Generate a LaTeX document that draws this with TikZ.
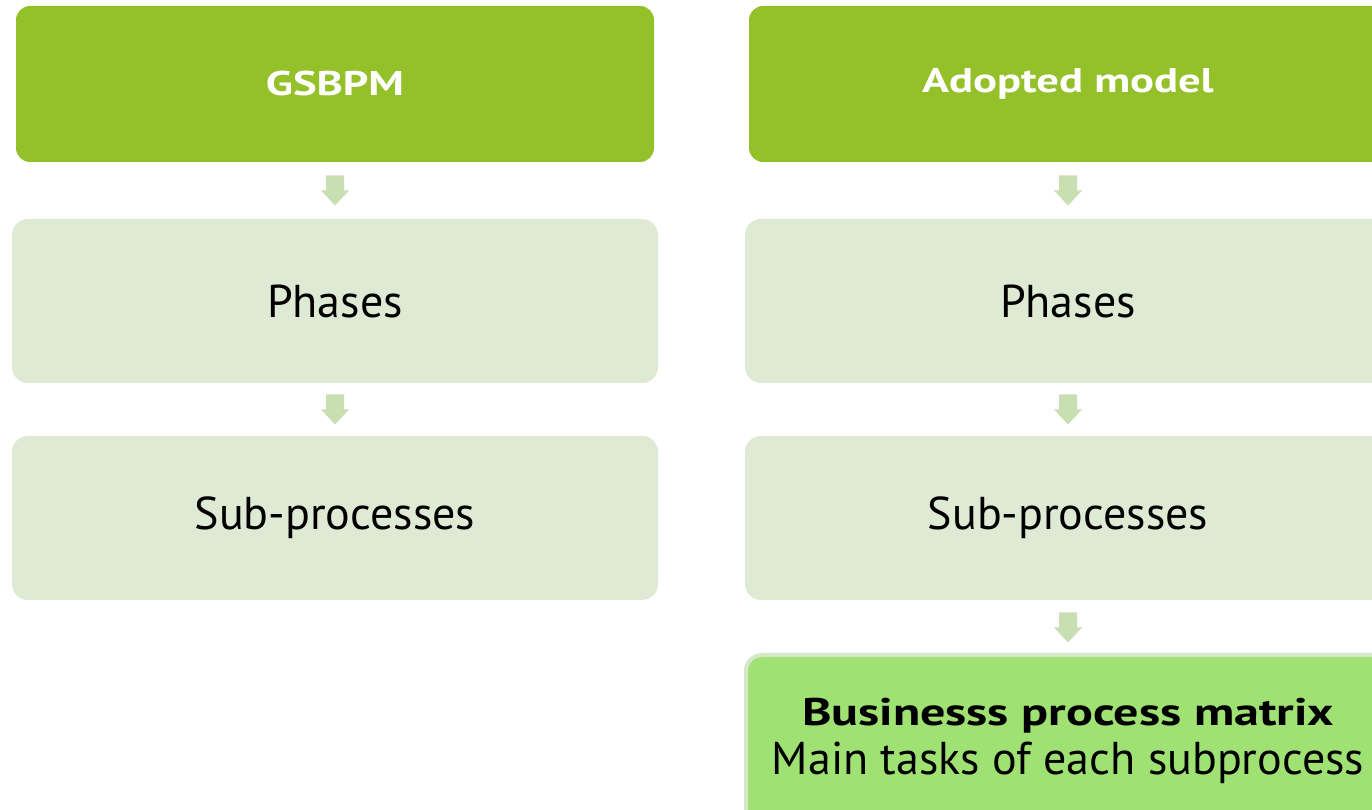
\documentclass[tikz,border=0pt]{standalone}
\usepackage{fontspec}
\setmainfont{PT Sans}[BoldFeatures={FakeStretch=1.3}]
\usetikzlibrary{positioning,calc}
\definecolor{headgreen}{HTML}{94C12A}
\definecolor{palegreen}{HTML}{DFEAD5}
\definecolor{arrowgreen}{HTML}{C8DFB1}
\definecolor{matrixgreen}{HTML}{A0E173}
\definecolor{rimgreen}{HTML}{D4E7C8}
\newcommand\px{0.02cm}
% block arrow in the gap between two boxes
\newcommand\flowstep[2]{%
  \path ($(#1.south)!0.5!(#2.north)$) coordinate (#1-#2);
  \fill[arrowgreen, shift={(#1-#2)}] (-9,-15) -- (9,-15) -- (9,0) -- (14,0)
    -- (0,15) -- (-14,0) -- (-9,0) -- cycle;}
\tikzset{
  head/.style={rectangle, rounded corners=14*\px, fill=headgreen, text=white,
    minimum width=638*\px, minimum height=156*\px, outer sep=0pt,
    font=\bfseries\fontsize{19.5}{23}\selectfont},
  level/.style={rectangle, rounded corners=16*\px, fill=palegreen,
    minimum width=646*\px, minimum height=164*\px, outer sep=0pt,
    font=\fontsize{26.2}{31}\selectfont},
  outcome/.style={rectangle, rounded corners=16*\px, fill=matrixgreen,
    draw=rimgreen, line width=4*\px, minimum width=644*\px,
    minimum height=172*\px, outer sep=0pt, align=center,
    font=\fontsize{26.2}{28}\selectfont}
}
\begin{document}
\begin{tikzpicture}[x=0.02cm,y=-0.02cm]
   \useasboundingbox (0,0) rectangle (1372,810);
   \node[head] (gsbpm) at (335,84) {GSBPM};
   \node[level] (phasesL) [below=1.14cm of gsbpm] {Phases};
   \node[level] (subL) [below=1.06cm of phasesL] {Sub-processes};
   \node[head] (adopted) at (1068,84) {Adopted model};
   \node[level] (phasesR) [below=1.14cm of adopted] {Phases};
   \node[level] (subR) [below=1.06cm of phasesR] {Sub-processes};
   \node[outcome] (bpm) [below=1.1cm of subR]
     {{\bfseries\fontsize{21.9}{26}\selectfont Businesss process matrix}\\Main tasks of each subprocess};
   % arrows between the levels
   \flowstep{gsbpm}{phasesL}
   \flowstep{phasesL}{subL}
   \flowstep{adopted}{phasesR}
   \flowstep{phasesR}{subR}
   \flowstep{subR}{bpm}
\end{tikzpicture}
\end{document}
